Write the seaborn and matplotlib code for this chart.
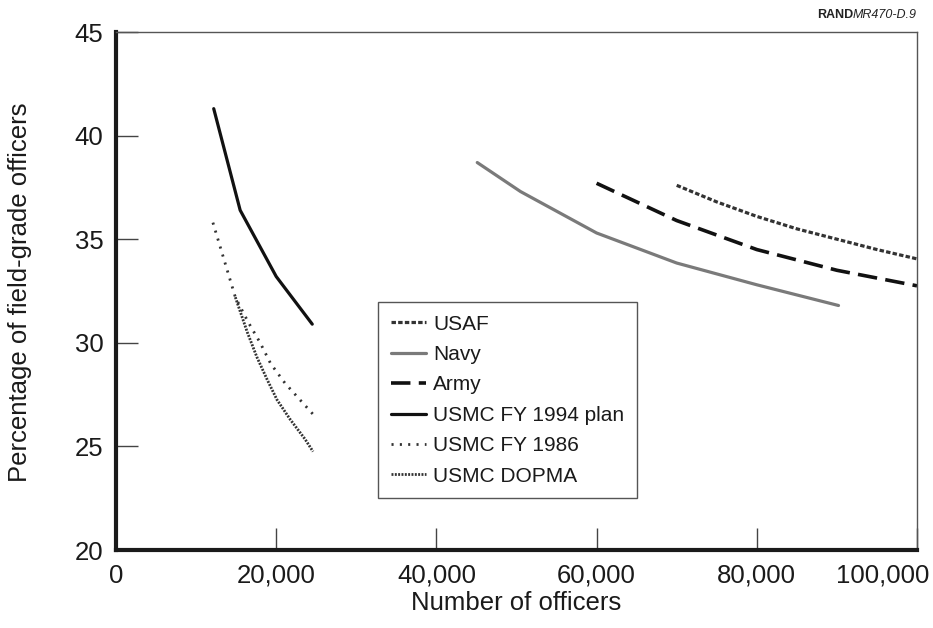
import matplotlib
matplotlib.use("Agg")
import matplotlib.pyplot as plt
import matplotlib.transforms as mtransforms
import seaborn as sns
import pandas as pd

# ---- data ----
usaf_x = [70000, 75000, 80000, 85000, 90000, 95000, 100000]
usaf_y = [37.6, 36.8, 36.1, 35.5, 35.0, 34.5, 34.05]

navy_x = [45100, 50500, 60000, 70000, 80000, 90200]
navy_y = [38.7, 37.3, 35.3, 33.85, 32.8, 31.8]

army_x = [60000, 70000, 80000, 90000, 100000]
army_y = [37.7, 35.9, 34.5, 33.5, 32.75]

usmc94_x = [12200, 15500, 20000, 24500]
usmc94_y = [41.3, 36.4, 33.2, 30.9]

usmc86_x = [12100, 14900, 16500, 18000, 19300, 21100, 24600]
usmc86_y = [35.8, 32.2, 31.0, 30.0, 29.0, 28.05, 26.55]

dopma_x = [14900, 16400, 17600, 18900, 20100, 21750, 23600, 24600]
dopma_y = [32.2, 30.5, 29.3, 28.2, 27.25, 26.3, 25.35, 24.75]

series_names = ["USAF", "Navy", "Army", "USMC FY 1994 plan",
                "USMC FY 1986", "USMC DOPMA"]

x_ticks = [0, 20000, 40000, 60000, 80000, 100000]
x_tick_labels = ["0", "20,000", "40,000", "60,000", "80,000", "100,000"]
y_ticks = [20, 25, 30, 35, 40, 45]

# ---- style ----
sns.set_theme(style="ticks")
plt.rcParams["font.family"] = ["Liberation Sans", "DejaVu Sans"]
plt.rcParams["lines.scale_dashes"] = False

fig = plt.figure(figsize=(9.33, 6.28), dpi=100)
ax = fig.add_axes([116 / 933, 1 - 550 / 628, 801 / 933, 518 / 628])

data = {
    "USAF": (usaf_x, usaf_y),
    "Navy": (navy_x, navy_y),
    "Army": (army_x, army_y),
    "USMC FY 1994 plan": (usmc94_x, usmc94_y),
    "USMC FY 1986": (usmc86_x, usmc86_y),
    "USMC DOPMA": (dopma_x, dopma_y),
}
styles = {
    "USAF": dict(color="#333333", lw=2.3, ls=(0, (3.2, 1.6))),
    "Navy": dict(color="#7a7a7a", lw=2.3, ls="-"),
    "Army": dict(color="#111111", lw=2.6, ls=(0, (14, 6))),
    "USMC FY 1994 plan": dict(color="#111111", lw=2.3, ls="-"),
    "USMC FY 1986": dict(color="#333333", lw=2.0, ls=(0, (1.5, 4.5))),
    "USMC DOPMA": dict(color="#333333", lw=2.0, ls=(0, (1.4, 1.0))),
}

for name in series_names:
    xs, ys = data[name]
    df = pd.DataFrame({"x": xs, "y": ys})
    st = styles[name]
    sns.lineplot(data=df, x="x", y="y", ax=ax, color=st["color"],
                 linewidth=st["lw"], linestyle=st["ls"], label=name,
                 sort=False, estimator=None)

ax.set_xlim(0, 100000)
ax.set_ylim(20, 45)
ax.set_xticks(x_ticks)
ax.set_xticklabels(x_tick_labels)
ax.set_yticks(y_ticks)

for side in ["left", "bottom"]:
    ax.spines[side].set_linewidth(3.0)
    ax.spines[side].set_color("#1a1a1a")
for side in ["top", "right"]:
    ax.spines[side].set_visible(True)
    ax.spines[side].set_linewidth(1.0)
    ax.spines[side].set_color("#555555")

ax.tick_params(axis="both", direction="in", length=16, width=1.0,
               color="#444444", labelsize=18.5, labelcolor="#1a1a1a")
ax.tick_params(axis="x", pad=10)
ax.tick_params(axis="y", pad=9)

# keep the last x tick label inside the figure (as in the reference)
last = ax.get_xticklabels()[-1]
last.set_transform(last.get_transform() +
                   mtransforms.ScaledTranslation(-34 / 100, 0,
                                                 fig.dpi_scale_trans))

ax.set_xlabel("Number of officers", fontsize=18.5, color="#1a1a1a")
ax.set_ylabel("Percentage of field-grade officers", fontsize=18.5,
              color="#1a1a1a")
ax.xaxis.set_label_coords(0.4994, -0.079)
ax.yaxis.set_label_coords(-0.105, 0.498)

leg = ax.legend(loc="upper left", bbox_to_anchor=(378 / 933, 1 - 302 / 628),
                bbox_transform=fig.transFigure, fontsize=15, frameon=True,
                fancybox=False, edgecolor="#555555", framealpha=1,
                handlelength=1.7, handletextpad=0.35, labelspacing=0.55,
                borderpad=0.6, borderaxespad=0)
leg.get_frame().set_linewidth(1.0)
for t in leg.get_texts():
    t.set_color("#1a1a1a")

# RAND source tag
renderer = fig.canvas.get_renderer()
t2 = fig.text(917 / 933, 1 - 15 / 628, "MR470-D.9", fontsize=9,
              style="italic", ha="right", va="center", color="#222222")
bb = t2.get_window_extent(renderer=renderer)
fig.text(bb.x0 / fig.bbox.width, 1 - 15 / 628, "RAND", fontsize=9,
         weight="bold", ha="right", va="center", color="#222222")

fig.savefig("out.png", dpi=100)
